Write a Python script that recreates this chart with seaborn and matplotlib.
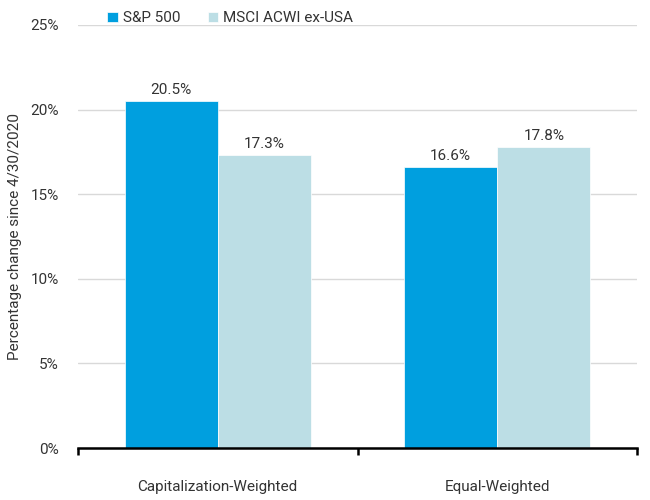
import matplotlib
matplotlib.use("Agg")
import matplotlib.pyplot as plt
import seaborn as sns
import pandas as pd
import numpy as np
from matplotlib.ticker import FuncFormatter, FixedLocator

categories = ["Capitalization-Weighted", "Equal-Weighted"]
series = ["S&P 500", "MSCI ACWI ex-USA"]
sp500 = [20.5, 16.6]
msci = [17.3, 17.8]
colors = ["#009FDF", "#BCDEE5"]

df = pd.DataFrame({
    "category": categories * 2,
    "series": [series[0]] * 2 + [series[1]] * 2,
    "value": sp500 + msci,
})

sns.set_theme(style="white")
plt.rcParams["font.family"] = ["Roboto", "DejaVu Sans"]

fig = plt.figure(figsize=(6.5, 5), dpi=100)
ax = fig.add_axes([0.12, 0.104, 0.86, 0.846])

sns.barplot(data=df, x="category", y="value", hue="series", order=categories,
            hue_order=series, palette=colors, width=0.667, ax=ax,
            saturation=1, edgecolor="white", linewidth=0.5)

ax.set_ylim(0, 25)
ax.set_xlim(-0.5, 1.5)
ax.yaxis.set_major_locator(FixedLocator([0, 5, 10, 15, 20, 25]))
ax.yaxis.set_major_formatter(FuncFormatter(lambda v, p: f"{v:.0f}%"))
ax.grid(axis="y", color="#D9D9D9", linewidth=1)
ax.set_axisbelow(True)

for c in ax.containers:
    labels = [f"{v:.1f}%" for v in c.datavalues]
    ax.bar_label(c, labels=labels, padding=3, fontsize=11, color="#333333")

for s in ["top", "right", "left"]:
    ax.spines[s].set_visible(False)
ax.spines["bottom"].set_color("black")
ax.spines["bottom"].set_linewidth(1.8)

ax.set_xticks([0, 1])
ax.set_xticklabels(categories)
ax.set_xticks([-0.5, 0.5, 1.5], minor=True)
ax.tick_params(axis="x", which="major", length=0, pad=23, labelsize=11, labelcolor="#333333")
ax.tick_params(axis="x", which="minor", length=5, width=1.8, color="black", direction="out", bottom=True)
ax.tick_params(axis="y", length=0, pad=14, labelsize=11, labelcolor="#333333")

ax.set_xlabel("")
ax.set_ylabel("Percentage change since 4/30/2020", fontsize=11, color="#333333", labelpad=6)

ax.legend(loc="upper left", bbox_to_anchor=(0.028, 1.065), ncol=2, frameon=False,
          fontsize=11, handlelength=0.7, handleheight=0.7, handletextpad=0.3,
          columnspacing=1.8, labelcolor="#333333")

fig.savefig("out.png", dpi=100)
